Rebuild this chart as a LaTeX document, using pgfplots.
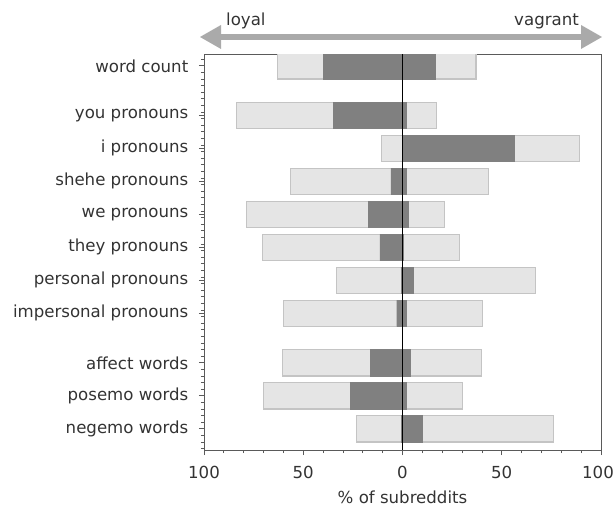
\documentclass[border=0pt]{standalone}
\usepackage{fontspec}
\setmainfont{DejaVu Sans}
\usepackage{pgfplots}
\usepackage{pgfplotstable}
\pgfplotsset{compat=1.18}
\definecolor{lightbar}{HTML}{E5E5E5}
\definecolor{lightedge}{HTML}{C4C4C4}
\definecolor{darkbar}{HTML}{808080}
\definecolor{framec}{HTML}{5A5A5A}
\definecolor{txt}{HTML}{333333}
\definecolor{arrowc}{HTML}{AAAAAA}

\pgfplotstableread{
y lneg lpos dneg dpos
0   -63   37   -40   16.3
1.5 -83.5 17   -35   2
2.5 -10.6 89   0     56.4
3.5 -56.4 43.2 -5.9  2
4.5 -78.4 21.2 -17.1 2.7
5.5 -70.7 28.9 -11.4 0.5
6.5 -33.4 67   -0.7  5.5
7.5 -60   40.5 -2.9  2
9   -60.6 39.6 -16.3 4
10  -69.9 30.4 -26.4 2
11  -23.3 76.2 -0.7  9.7
}\data

\begin{document}
\fontsize{16.6bp}{20bp}\selectfont
\begin{tikzpicture}[font=\fontsize{16.6bp}{20bp}\selectfont]
\useasboundingbox (0bp,0bp) rectangle (614bp,508bp);
\begin{axis}[
  at={(204bp,58bp)}, anchor=south west,
  scale only axis, width=397bp, height=396bp,
  xmin=-100, xmax=100, ymin=-0.36, ymax=11.64, y dir=reverse,
  axis line style={framec, line width=1bp},
  tick style={framec, line width=0.8bp},
  tick align=outside,
  major tick length=5bp, minor tick length=3bp,
  xtick pos=bottom, ytick pos=left,
  xtick={-100,-50,0,50,100}, xticklabels={100,50,0,50,{100\kern6bp}},
  minor xtick={-90,-80,...,90},
  ytick={0,1.5,2.5,3.5,4.5,5.5,6.5,7.5,9,10,11},
  yticklabels={word count, you pronouns, i pronouns, shehe pronouns, we pronouns, they pronouns, personal pronouns, impersonal pronouns, affect words, posemo words, negemo words},
  minor ytick={-0.2,0,...,11.6},
  tick label style={text=txt},
  xticklabel style={yshift=-5bp},
  yticklabel style={xshift=-5bp},
  /pgf/number format/assume math mode=true,
  xlabel={\% of subreddits}, xlabel style={text=txt, inner sep=0pt, text depth=0pt, yshift=-6.5bp},
  bar width=0.8,
]
\addplot[xbar, bar shift=0pt, fill=lightbar, draw=lightedge, line width=1.2bp] table[x=lneg,y=y]{\data};
\addplot[xbar, bar shift=0pt, fill=lightbar, draw=lightedge, line width=1.2bp] table[x=lpos,y=y]{\data};
\addplot[xbar, bar shift=0pt, fill=darkbar, draw=darkbar, line width=0.4bp] table[x=dneg,y=y]{\data};
\addplot[xbar, bar shift=0pt, fill=darkbar, draw=darkbar, line width=0.4bp] table[x=dpos,y=y]{\data};
\addplot[black, line width=1.6bp, no marks] coordinates {(0,-0.36) (0,11.64)};
\end{axis}
\fill[arrowc] (215bp,467.8bp) rectangle (587bp,474.2bp);
\fill[arrowc] (200bp,471bp) -- (221bp,483bp) -- (221bp,459bp) -- cycle;
\fill[arrowc] (602bp,471bp) -- (581bp,483bp) -- (581bp,459bp) -- cycle;
\node[anchor=base west, inner sep=0pt, text=txt] at (226bp,482.5bp) {loyal};
\node[anchor=base east, inner sep=0pt, text=txt] at (579bp,482.5bp) {vagrant};
\end{tikzpicture}
\end{document}
